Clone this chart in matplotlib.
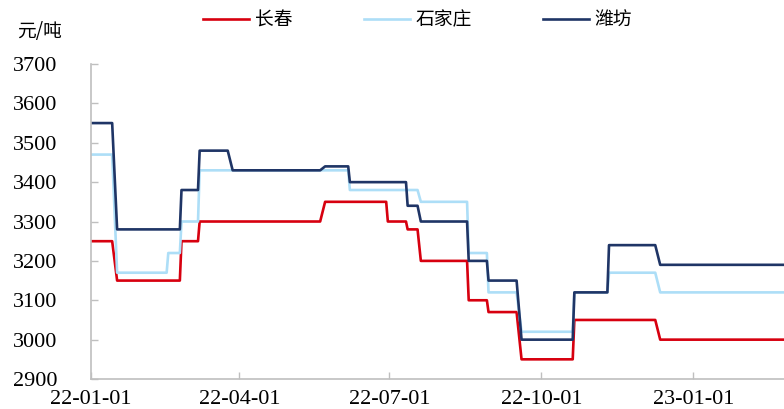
import pandas as pd
import matplotlib
matplotlib.use("Agg")
import matplotlib.pyplot as plt
import matplotlib.dates as mdates

# price points (yuan/ton), each change drawn as old-value end -> new-value start
cc_dates = ["2022-01-01", "2022-01-14", "2022-01-17", "2022-02-24", "2022-02-25",
            "2022-03-07", "2022-03-08", "2022-05-20", "2022-05-23", "2022-06-29",
            "2022-06-30", "2022-07-11", "2022-07-12", "2022-07-18", "2022-07-20",
            "2022-08-17", "2022-08-18", "2022-08-29", "2022-08-30", "2022-09-16",
            "2022-09-19", "2022-10-20", "2022-10-21", "2022-12-09", "2022-12-12",
            "2023-02-25"]
cc_vals = [3250, 3250, 3150, 3150, 3250,
           3250, 3300, 3300, 3350, 3350,
           3300, 3300, 3280, 3280, 3200,
           3200, 3100, 3100, 3070, 3070,
           2950, 2950, 3050, 3050, 3000,
           3000]

sjz_dates = ["2022-01-01", "2022-01-14", "2022-01-17", "2022-02-16", "2022-02-17",
             "2022-02-24", "2022-02-25", "2022-03-07", "2022-03-08", "2022-06-06",
             "2022-06-07", "2022-07-18", "2022-07-20", "2022-08-17", "2022-08-18",
             "2022-08-29", "2022-08-30", "2022-09-16", "2022-09-19", "2022-10-20",
             "2022-10-21", "2022-11-10", "2022-11-11", "2022-12-09", "2022-12-12",
             "2023-02-25"]
sjz_vals = [3470, 3470, 3170, 3170, 3220,
            3220, 3300, 3300, 3430, 3430,
            3380, 3380, 3350, 3350, 3220,
            3220, 3120, 3120, 3020, 3020,
            3120, 3120, 3170, 3170, 3120,
            3120]

wf_dates = ["2022-01-01", "2022-01-14", "2022-01-17", "2022-02-24", "2022-02-25",
            "2022-03-07", "2022-03-08", "2022-03-25", "2022-03-28", "2022-05-20",
            "2022-05-23", "2022-06-06", "2022-06-07", "2022-07-11", "2022-07-12",
            "2022-07-18", "2022-07-20", "2022-08-17", "2022-08-18", "2022-08-29",
            "2022-08-30", "2022-09-16", "2022-09-19", "2022-10-20", "2022-10-21",
            "2022-11-10", "2022-11-11", "2022-12-09", "2022-12-12", "2023-02-25"]
wf_vals = [3550, 3550, 3280, 3280, 3380,
           3380, 3480, 3480, 3430, 3430,
           3440, 3440, 3400, 3400, 3340,
           3340, 3300, 3300, 3200, 3200,
           3150, 3150, 3000, 3000, 3120,
           3120, 3240, 3240, 3190, 3190]

names = ["长春", "石家庄", "潍坊"]
colors = ["#D7000F", "#ADDEF7", "#1F3566"]
x_ticks = ["2022-01-01", "2022-04-01", "2022-07-01", "2022-10-01", "2023-01-01"]

cjk = ["Noto Sans CJK SC", "DejaVu Sans"]
num_font = "Liberation Serif"

fig = plt.figure(figsize=(7.84, 4.09), dpi=100)
ax = fig.add_axes([0.1157, 0.0733, 0.8843, 0.7702])

series = [(cc_dates, cc_vals), (sjz_dates, sjz_vals), (wf_dates, wf_vals)]
for (d, v), name, c in zip(series, names, colors):
    ax.plot(pd.to_datetime(d), v, color=c, lw=1.9, label=name)

ax.set_ylim(2900, 3700)
ax.set_yticks(range(2900, 3701, 100))
ax.set_xlim(pd.Timestamp("2022-01-01"), pd.Timestamp("2023-02-25"))
ax.set_xticks(pd.to_datetime(x_ticks))
ax.xaxis.set_major_formatter(mdates.DateFormatter("%y-%m-%d"))

for s in ["top", "right"]:
    ax.spines[s].set_visible(False)
for s in ["left", "bottom"]:
    ax.spines[s].set_color("#BFBFBF")
    ax.spines[s].set_linewidth(1.2)
ax.tick_params(direction="in", length=5, color="#BFBFBF", width=1,
               labelsize=16, labelcolor="#000000")
ax.tick_params(axis="y", pad=24)
ax.tick_params(axis="x", pad=8)
for lab in ax.get_xticklabels() + ax.get_yticklabels():
    lab.set_fontfamily(num_font)

fig.text(0.022, 0.922, "元/吨", fontsize=13.5, family=cjk, ha="left", va="center")

leg = ax.legend(loc="center", bbox_to_anchor=(0.5325, 0.951), bbox_transform=fig.transFigure,
                ncol=3, frameon=False, prop={"family": cjk, "size": 13.5},
                handlelength=2.45, handletextpad=0.3, columnspacing=3.8)

fig.savefig("out.png", dpi=100)
